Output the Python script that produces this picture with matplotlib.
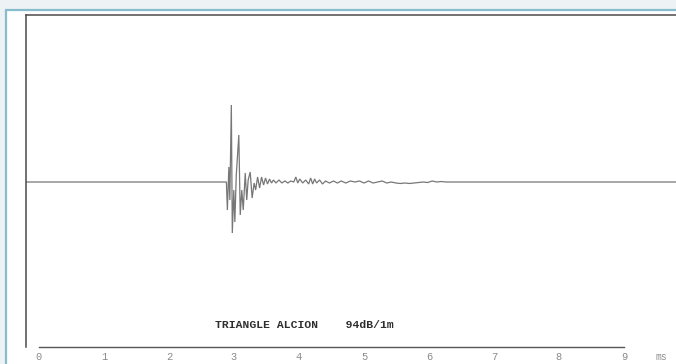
import matplotlib
matplotlib.use("Agg")
import matplotlib.pyplot as plt
from matplotlib.patches import Rectangle
from matplotlib.transforms import blended_transform_factory

# ---- data (time in ms, amplitude in arbitrary units) ----
t_ms = [-0.20, 2.883, 2.898, 2.921, 2.936, 2.959, 2.974, 2.997, 3.013, 3.035,
        3.074, 3.096, 3.120, 3.142, 3.173, 3.196, 3.218, 3.249, 3.279, 3.310,
        3.333, 3.363, 3.394, 3.424, 3.455, 3.485, 3.516, 3.546, 3.577, 3.607,
        3.646, 3.691, 3.737, 3.783, 3.829, 3.874, 3.920, 3.951, 3.981, 4.011,
        4.057, 4.103, 4.149, 4.179, 4.210, 4.240, 4.271, 4.317, 4.362, 4.408,
        4.469, 4.530, 4.591, 4.650, 4.720, 4.790, 4.860, 4.930, 5.000, 5.070,
        5.140, 5.210, 5.280, 5.350, 5.420, 5.490, 5.560, 5.630, 5.700, 5.770,
        5.840, 5.910, 5.980, 6.050, 6.120, 6.190, 6.260, 6.450, 9.80]
amp = [0, 0, -28, 15, -18, 77, -51, -8, -40, 7,
       47, -33, -8, -28, 9, -18, 2, 10, -16, -1,
       -8, 5, -6, 5, -3, 4, -2, 3, -1, 2,
       -1, 2, -1, 1, -1, 1, 0, 5, -1, 3,
       -1, 2, -2, 4, -2, 3, -1, 2, -2, 1,
       -1, 1, -1, 1, -1, 1, 0, 1, -1, 1,
       -1, 0, 1, -1, 0, -1, -1.5, -1, -1.5, -1,
       -0.5, 0, -0.5, 1, 0, 0.5, 0, 0, 0]

tick_vals = [0, 1, 2, 3, 4, 5, 6, 7, 8, 9]
tick_labels = ["0", "1", "2", "3", "4", "5", "6", "7", "8", "9"]
unit_label = "ms"
title_text = "TRIANGLE ALCION    94dB/1m"

W, H = 676, 364
fig = plt.figure(figsize=(W / 100, H / 100), dpi=100)
fig.patch.set_facecolor("#edf2f5")

# page panel with light blue border (left and top edges visible)
panel = Rectangle((6 / W, -0.1), 1.2, (H - 10) / H + 0.1,
                  transform=fig.transFigure, facecolor="white",
                  edgecolor="#86bccb", lw=1.6, zorder=-10)
fig.patches.append(panel)

ax = fig.add_axes([26 / W, 17 / H, 1 - 26 / W, 332 / H])
ax.set_zorder(5)
ax.patch.set_visible(False)
ax.plot(t_ms, amp, color="#777777", lw=0.9, solid_joinstyle="miter")
ax.set_xlim(-0.2, 9.8)
ax.set_ylim(-165, 167)

for s in ["left", "top"]:
    ax.spines[s].set_color("#4a4a4a")
    ax.spines[s].set_linewidth(1.1)
ax.spines["bottom"].set_color("#555555")
ax.spines["bottom"].set_linewidth(1.0)
ax.spines["right"].set_visible(False)
ax.spines["bottom"].set_bounds(0, 9)

ax.set_yticks([])
ax.set_xticks(tick_vals)
ax.set_xticklabels(tick_labels, fontsize=7.5, color="#8a8a8a",
                   family="Liberation Mono")
ax.tick_params(axis="x", length=0, pad=3.5)

trans = blended_transform_factory(ax.transData, fig.transFigure)
ax.text(9.57, (H - 357) / H, unit_label, fontsize=7, color="#8a8a8a",
        family="Liberation Mono", ha="center", va="center", transform=trans)

fig.text(304 / W, (H - 325) / H, title_text, fontsize=8.2,
         family="Liberation Mono", fontweight="bold", color="#2e2e2e",
         ha="center", va="center")

fig.savefig("out.png", dpi=100, facecolor=fig.get_facecolor())
